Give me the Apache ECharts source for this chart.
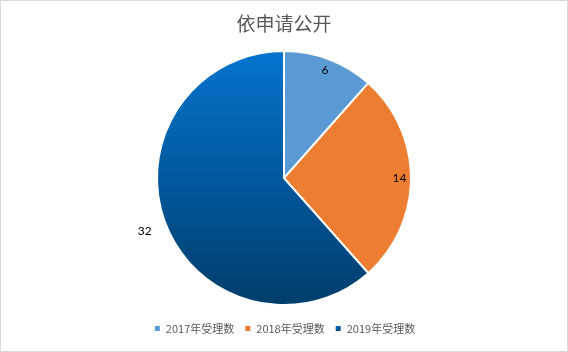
<!DOCTYPE html>
<html>
<head>
<meta charset="utf-8">
<script src="https://cdn.jsdelivr.net/npm/echarts@6/dist/echarts.min.js"></script>
<style>
  html, body { margin: 0; padding: 0; background: #fff; }
  #chart { width: 568px; height: 352px; box-sizing: border-box; border: 1px solid #d9d9d9; }
</style>
</head>
<body>
<div id="chart"></div>
<script>
var titleText = '依申请公开';
var categories = ['2017年受理数', '2018年受理数', '2019年受理数'];
var values = [6, 14, 32];

var font = '"Noto Sans CJK SC", "Microsoft YaHei", sans-serif';
var grad = new echarts.graphic.LinearGradient(0, 0, 0, 1, [
    {offset: 0, color: '#0574cf'},
    {offset: 1, color: '#003d6b'}
]);
var colors = ['#5b9bd5', '#ed7d31', grad];

var pieData = categories.map(function(name, i){
    return {name: name, value: values[i], itemStyle: {color: colors[i]}};
});

// transparent rings used only to place the value labels
function labelData(show){
    return categories.map(function(name, i){
        return {
            name: name, value: values[i],
            label: {show: show[i]}
        };
    });
}
var labelRing = {
    type: 'pie', silent: true, legendHoverLink: false,
    center: ['50%', '50.6%'],
    itemStyle: {color: 'rgba(0,0,0,0)'},
    label: {position: 'inside', formatter: '{c}', color: '#000', fontSize: 12, fontFamily: 'Lato, sans-serif'},
    labelLine: {show: false},
    emphasis: {disabled: true}
};

var myChart = echarts.init(document.getElementById('chart'));
myChart.setOption({
    animation: false,
    title: {
        text: titleText,
        left: 'center',
        top: 8,
        textStyle: {fontSize: 19, fontWeight: 'normal', color: '#595959', fontFamily: font}
    },
    legend: {
        bottom: 12,
        left: 'center',
        itemWidth: 7,
        itemHeight: 7,
        itemGap: 9,
        icon: 'rect',
        textStyle: {fontSize: 11, color: '#595959', fontFamily: font},
        data: categories.map(function(name, i){
            return {name: name, itemStyle: {color: colors[i]}};
        })
    },
    series: [
        {
            name: titleText,
            type: 'pie',
            radius: 127,
            center: ['50%', '50.6%'],
            itemStyle: {borderColor: '#fff', borderWidth: 2},
            label: {show: false},
            labelLine: {show: false},
            data: pieData
        },
        Object.assign({}, labelRing, {radius: [98, 127], data: labelData([true, true, false])}),
        Object.assign({}, labelRing, {radius: [138, 154], data: labelData([false, false, true])})
    ]
});
</script>
</body>
</html>
